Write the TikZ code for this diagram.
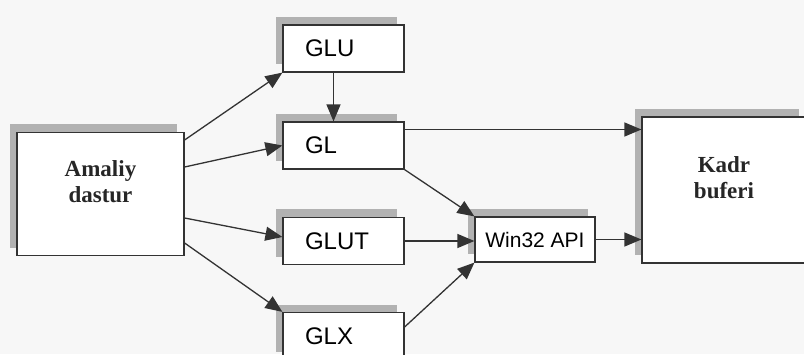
\documentclass[tikz,border=0pt]{standalone}
\usepackage{fontspec}
\setmainfont{Liberation Serif}
\newfontfamily\arialfont{Liberation Sans}
\usetikzlibrary{arrows.meta,shadows}
\tikzset{
  % box with a gray shade on its top and left side
  blok/.style={draw=black!80, fill=white, line width=1.2pt,
    general shadow={fill=gray!60, shadow xshift=-7pt, shadow yshift=8pt}},
  kichik blok/.style={blok, minimum width=121pt, minimum height=47pt,
    text width=77pt, inner xsep=22pt, align=left,
    font=\arialfont\fontsize{24}{28}\selectfont},
  matn/.style={align=center, text=black!85,
    font=\bfseries\fontsize{23}{26}\selectfont},
  strelka/.style={-{Triangle[length=17pt,width=14pt]}, draw=black!80, line width=1.3pt},
}
\begin{document}
\begin{tikzpicture}[x=1pt,y=1pt]
\useasboundingbox (0,0) rectangle (804,354);
\clip (0,0) rectangle (804,354);
\fill[gray!6] (0,0) rectangle (804,354);

\node[blok, minimum width=167pt, minimum height=123pt,
  label={[matn, yshift=12pt]center:Amaliy\\dastur}] (amaliy) at (100.5,160) {};
\node[kichik blok] (glu) at (343.5,305.5) {GLU};
\node[kichik blok] (gl) at (343.5,208.5) {GL};
\node[kichik blok] (glut) at (343.5,113) {GLUT};
\node[kichik blok] (glx) at (343.5,18) {GLX};
\node[blok, minimum width=120pt, minimum height=45pt, inner xsep=2pt,
  font=\arialfont\fontsize{21}{24}\selectfont] (win) at (535,114.5) {Win32 API};
\node[blok, minimum width=164pt, minimum height=146pt,
  label={[matn, yshift=12pt]center:Kadr\\buferi}] (kadr) at (724,164) {};

\draw[strelka] ([yshift=54pt]amaliy.east) -- (glu.south west);
\draw[strelka] ([yshift=27pt]amaliy.east) -- (gl.west);
\draw[strelka] ([yshift=-24pt]amaliy.east) -- ([yshift=4pt]glut.west);
\draw[strelka] ([yshift=-49pt]amaliy.east) -- (glx.north west);
\draw[strelka] ([xshift=-10pt]glu.south) -- ([xshift=-10pt]gl.north);
\draw[strelka] ([yshift=16pt]gl.east) -- ([yshift=16pt]gl.east -| kadr.west);
\draw[strelka] (gl.south east) -- (win.north west);
\draw[strelka] (glut.east) -- (glut.east -| win.west);
\draw[strelka] ([yshift=9pt]glx.east) -- (win.south west);
\draw[strelka] (win.east) -- (win.east -| kadr.west);
\end{tikzpicture}
\end{document}
